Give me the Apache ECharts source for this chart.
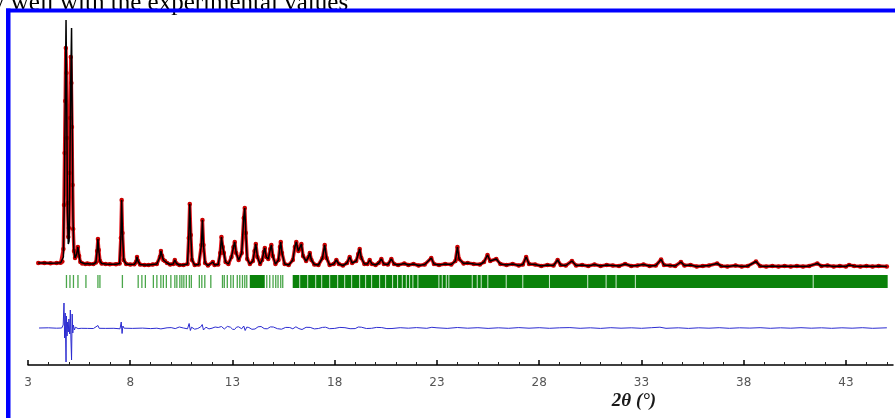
<!DOCTYPE html>
<html>
<head>
<meta charset="utf-8">
<script src="https://cdn.jsdelivr.net/npm/echarts@6/dist/echarts.min.js"></script>
<style>
  html, body { margin: 0; padding: 0; background: #fff; }
  #chart { width: 895px; height: 418px; }
</style>
</head>
<body>
<div id="chart"></div>
<script>
// observed pattern [2theta, counts]
var observed = [
  [3.50,2000],[3.80,1990],[4.10,1980],[4.40,1990],[4.60,2020],[4.68,2150],[4.73,3400],
  [4.76,7800],[4.79,13000],[4.82,18200],[4.85,23500],[4.88,21000],[4.91,14500],[4.94,8000],
  [4.97,4600],[5.00,5500],[5.03,11000],[5.06,16500],[5.09,22600],[5.12,20000],[5.15,15600],
  [5.18,9800],[5.21,5400],[5.25,3200],[5.30,2500],[5.38,2900],[5.44,3600],[5.50,2700],
  [5.56,2100],[5.65,1950],[5.80,1900],[5.90,1950],[6.00,1900],[6.20,1900],[6.32,2050],
  [6.38,3200],[6.42,4400],[6.46,3300],[6.52,2200],[6.60,1950],[6.80,1900],[7.00,1880],
  [7.30,1880],[7.48,1950],[7.54,4500],[7.58,8300],[7.62,5000],[7.68,2300],[7.80,1900],
  [8.00,1850],[8.20,1880],[8.28,2100],[8.33,2600],[8.38,2200],[8.48,1850],[8.70,1800],
  [8.90,1800],[9.10,1850],[9.30,1900],[9.45,2600],[9.50,3200],[9.56,2700],[9.62,2300],
  [9.70,2200],[9.80,2000],[9.95,1850],[10.10,1900],[10.18,2300],[10.26,1950],[10.40,1800],
  [10.60,1800],[10.80,1900],[10.86,4500],[10.91,7900],[10.96,4800],[11.02,2300],[11.15,1800],
  [11.35,1850],[11.48,3800],[11.53,6300],[11.58,3800],[11.66,2000],[11.80,1750],[12.04,2100],
  [12.12,1800],[12.30,1850],[12.40,3000],[12.46,4600],[12.52,3600],[12.58,3000],[12.66,2100],
  [12.80,1900],[12.95,2600],[13.05,3600],[13.11,4100],[13.18,3000],[13.30,2300],[13.45,3000],
  [13.55,6500],[13.60,7500],[13.65,5000],[13.72,2400],[13.85,1900],[14.00,2200],[14.08,3200],
  [14.14,3900],[14.22,2600],[14.35,1900],[14.45,2300],[14.53,3100],[14.58,3500],[14.65,2600],
  [14.75,2400],[14.85,3400],[14.90,3800],[14.97,2700],[15.10,1900],[15.25,2300],[15.32,3600],
  [15.36,4100],[15.42,3000],[15.55,1900],[15.75,1800],[15.95,2300],[16.05,3600],[16.12,4100],
  [16.22,3200],[16.30,3400],[16.37,3900],[16.45,2700],[16.60,2200],[16.72,2600],[16.78,3000],
  [16.86,2300],[17.00,1850],[17.20,1800],[17.40,2500],[17.51,3800],[17.60,2500],[17.75,1800],
  [17.95,1900],[18.08,2300],[18.20,1900],[18.40,1750],[18.60,2000],[18.73,2600],[18.85,2000],
  [19.05,2200],[19.15,2900],[19.22,3400],[19.30,2500],[19.45,1900],[19.60,1900],[19.71,2300],
  [19.82,1900],[20.00,1800],[20.15,2000],[20.28,2400],[20.40,1900],[20.60,1850],[20.77,2400],
  [20.90,1900],[21.10,1800],[21.40,1950],[21.60,1800],[21.85,1900],[22.10,1750],[22.40,1850],
  [22.72,2500],[22.85,1900],[23.10,1800],[23.40,1900],[23.70,1850],[23.90,2200],[24.00,3600],
  [24.08,2400],[24.30,1950],[24.50,2000],[24.80,1900],[25.10,1850],[25.30,2100],[25.47,2800],
  [25.60,2200],[25.90,2400],[26.10,1900],[26.40,1800],[26.70,1900],[27.00,1750],[27.20,1850],
  [27.36,2600],[27.50,1900],[27.80,1850],[28.10,1700],[28.40,1800],[28.70,1750],[28.90,2300],
  [29.05,1800],[29.30,1750],[29.60,2200],[29.80,1750],[30.10,1800],[30.40,1700],[30.70,1850],
  [31.00,1700],[31.30,1800],[31.60,1750],[31.90,1700],[32.20,1900],[32.50,1700],[32.80,1750],
  [33.10,1850],[33.40,1700],[33.70,1750],[33.96,2350],[34.10,1800],[34.40,1750],[34.65,1700],
  [34.93,2100],[35.10,1750],[35.40,1800],[35.70,1650],[36.00,1700],[36.30,1750],[36.70,1950],
  [36.90,1700],[37.20,1650],[37.60,1750],[37.90,1650],[38.20,1700],[38.60,2150],[38.80,1700],
  [39.10,1650],[39.40,1700],[39.70,1650],[40.00,1700],[40.30,1650],[40.60,1700],[40.90,1650],
  [41.20,1700],[41.60,1950],[41.80,1700],[42.10,1750],[42.40,1650],[42.70,1700],[43.00,1650],
  [43.15,1800],[43.40,1700],[43.70,1650],[44.00,1700],[44.30,1650],[44.60,1700],[45.00,1650]
];

// calculated profile differs from observed only around the two strong reflections
var calcStrong = [
  [4.68,2100],[4.73,2600],[4.78,9000],[4.82,18000],[4.86,26300],[4.89,19000],[4.93,7000],
  [4.97,3900],[5.01,4200],[5.05,12000],[5.09,20000],[5.13,25500],[5.16,17000],[5.20,6500],
  [5.24,3400],[5.30,2500]
];

// obs - calc
var difference = [
  [3.54,0],[4.00,20],[4.40,-20],[4.65,0],[4.72,300],[4.76,2500],[4.79,-1000],[4.82,1500],
  [4.86,-3400],[4.88,1200],[4.91,-800],[4.94,600],[4.97,-400],[5.00,900],[5.04,-600],
  [5.07,1800],[5.10,-1200],[5.13,-3200],[5.16,1400],[5.19,-500],[5.22,300],[5.27,-200],
  [5.32,80],[5.45,-60],[5.60,-30],[5.90,-40],[6.20,-50],[6.42,250],[6.48,-30],[6.80,-40],
  [7.20,-30],[7.50,-80],[7.56,600],[7.60,-550],[7.64,200],[7.70,-20],[8.10,-40],[8.60,-10],
  [9.00,-60],[9.30,-20],[9.50,-90],[9.80,20],[10.00,40],[10.20,-60],[10.40,100],[10.60,0],
  [10.80,-80],[10.88,450],[10.94,-250],[11.00,80],[11.15,-120],[11.30,-50],[11.45,120],
  [11.52,350],[11.58,-200],[11.70,80],[11.85,-90],[12.00,-20],[12.15,100],[12.30,50],
  [12.46,150],[12.60,-100],[12.75,160],[12.90,80],[13.00,-120],[13.10,-150],[13.20,90],
  [13.30,120],[13.45,-80],[13.55,200],[13.62,-250],[13.70,90],[13.80,50],[13.95,-130],
  [14.10,-100],[14.25,120],[14.40,150],[14.55,-60],[14.70,-80],[14.85,110],[15.00,100],
  [15.20,-70],[15.40,-120],[15.60,60],[15.80,50],[15.95,-80],[16.10,120],[16.25,-60],
  [16.40,-150],[16.60,70],[16.80,60],[17.00,-90],[17.20,-50],[17.40,60],[17.55,80],
  [17.75,-70],[18.00,-40],[18.25,60],[18.50,30],[18.75,-70],[19.00,-60],[19.15,100],
  [19.30,80],[19.55,-50],[19.80,-30],[20.05,60],[20.30,40],[20.55,-60],[20.80,-50],
  [21.20,30],[21.60,-20],[22.00,40],[22.50,-30],[22.75,70],
  [23.00,20],[23.50,-40],[24.00,50],[24.50,-20],[25.00,30],[25.50,-40],[26.00,20],[26.50,-30],
  [27.00,40],[27.50,-20],[28.00,30],[28.50,-30],[29.00,20],[29.50,40],[30.00,-30],[30.50,20],
  [31.00,-40],[31.50,30],[32.00,-20],[32.50,20],[33.00,-30],[33.50,30],[33.90,80],[34.20,-30],
  [34.80,20],[35.30,-40],[35.80,20],[36.30,-20],[36.80,30],[37.30,-30],[37.80,20],[38.30,-10],
  [38.80,30],[39.30,-30],[39.80,20],[40.30,-20],[40.80,30],[41.30,-20],[41.80,20],[42.30,-30],
  [42.80,20],[43.30,-20],[43.80,30],[44.30,-30],[45.00,20]
];

// Bragg reflection positions (2theta)
var braggTicks = [
  4.881,5.052,5.223,5.443,5.833,6.420,6.517,7.616,8.388,8.569,8.740,9.131,9.302,9.497,
  9.619,9.766,9.986,10.181,10.279,10.425,10.523,10.621,10.743,10.889,10.987,11.378,11.500,
  11.646,11.940,12.511,12.599,12.746,12.917,13.039,13.234,13.356,13.488,13.600,13.698,
  14.676,14.822,14.983,15.115,15.227,15.359,15.457
];
// ranges where reflections overlap into a solid band
var braggBands = [[13.845,14.578],[15.945,45.04]];
// small holes inside the dense band
var braggGaps = [
  16.287,16.678,17.069,17.362,17.753,18.144,18.486,18.827,19.218,19.511,19.804,20.195,
  20.488,20.830,21.074,21.304,21.500,21.661,21.822,22.067,23.093,23.258,23.454,23.581,
  24.724,24.968,25.163,25.486,26.385,27.196,28.500,30.371,31.270,31.758,32.701,41.397
];

var majorTicks = [3, 8, 13, 18, 23, 28, 33, 38, 43];
var minorTicks = [4,5,6,7,9,10,11,12,14,15,16,17,19,20,21,22,24,25,26,27,29,30,31,32,
                  34,35,36,37,39,40,41,42,44,45];

var diffOffset = -4500;
var braggTop = 800, braggBottom = -500;

var calc = observed.filter(function (p) { return p[0] < 4.68 || p[0] > 5.30; })
  .concat(calcStrong)
  .sort(function (a, b) { return a[0] - b[0]; });

var chart = echarts.init(document.getElementById('chart'));

function tickItem(color, w) {
  return function (params, api) {
    var a = api.coord([api.value(0), braggTop]);
    var b = api.coord([api.value(0), braggBottom]);
    return {
      type: 'rect',
      shape: { x: a[0] - w / 2, y: a[1], width: w, height: b[1] - a[1] },
      style: { fill: color }
    };
  };
}

var option = {
  animation: false,
  grid: { left: 28, right: 2, top: 12, bottom: 53, outerBoundsMode: 'none' },
  xAxis: [
    {
      type: 'value', min: 3, max: 45.3, position: 'bottom',
      splitLine: { show: false },
      axisLine: { onZero: false, lineStyle: { color: '#000', width: 1.5 } },
      axisTick: { inside: true, length: 5, customValues: majorTicks, lineStyle: { color: '#000', width: 1.5 } },
      axisLabel: { customValues: majorTicks, margin: 12, color: '#555', fontSize: 12, fontFamily: 'DejaVu Sans' }
    },
    {
      type: 'value', min: 3, max: 45.3, position: 'bottom',
      splitLine: { show: false },
      axisLine: { show: false, onZero: false },
      axisTick: { inside: true, length: 3, customValues: minorTicks, lineStyle: { color: '#222', width: 1 } },
      axisLabel: { show: false }
    }
  ],
  yAxis: { type: 'value', min: -8200, max: 27100, show: false },
  series: [
    {
      name: 'Bragg', type: 'custom', xAxisIndex: 0,
      data: braggTicks.map(function (t) { return [t, 0]; }),
      renderItem: tickItem('#4aa64a', 1.3)
    },
    {
      name: 'Bragg band', type: 'custom', xAxisIndex: 0,
      data: braggBands,
      renderItem: function (params, api) {
        var a = api.coord([api.value(0), braggTop]);
        var b = api.coord([api.value(1), braggBottom]);
        return { type: 'rect', shape: { x: a[0], y: a[1], width: b[0] - a[0], height: b[1] - a[1] }, style: { fill: '#0a820a' } };
      }
    },
    {
      name: 'Bragg gaps', type: 'custom', xAxisIndex: 0, z: 3,
      data: braggGaps.map(function (t) { return [t, 0]; }),
      renderItem: tickItem('#cfe9cf', 1)
    },
    {
      name: 'Yobs', type: 'line', xAxisIndex: 0, data: observed,
      symbol: 'circle', symbolSize: 4.5, showAllSymbol: true,
      itemStyle: { color: '#c80000' },
      lineStyle: { color: '#e5161c', width: 3.5 }
    },
    {
      name: 'Ycalc', type: 'line', xAxisIndex: 0, data: calc, showSymbol: false, z: 4,
      lineStyle: { color: '#000', width: 1.5 }
    },
    {
      name: 'Yobs-Ycalc', type: 'line', xAxisIndex: 0, showSymbol: false,
      data: difference.map(function (p) { return [p[0], p[1] + diffOffset]; }),
      lineStyle: { color: '#2b2bd0', width: 1 }
    }
  ],
  graphic: [
    {
      type: 'text', left: -8, top: -9, z: 1,
      style: { text: 'y well with the experimental values', font: '25px "Liberation Serif"', fill: '#000' }
    },
    { type: 'rect', z: 10, shape: { x: 6, y: 8.5, width: 889, height: 4 }, style: { fill: '#0000ff' } },
    { type: 'rect', z: 10, shape: { x: 6, y: 8.5, width: 4.5, height: 410 }, style: { fill: '#0000ff' } },
    {
      type: 'text', x: 634, y: 401,
      style: { text: '2θ (°)', font: 'italic bold 19px "Liberation Serif"', fill: '#1a1a1a', align: 'center', verticalAlign: 'middle' }
    }
  ]
};

chart.setOption(option);
</script>
</body>
</html>
